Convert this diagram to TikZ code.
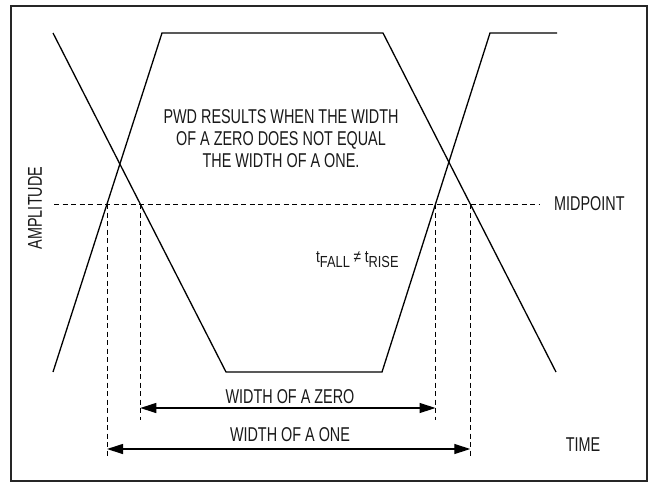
\documentclass[tikz,border=0pt]{standalone}
\usepackage{fontspec}
\setmainfont{Liberation Sans}[FakeStretch=0.72]
\newfontfamily\tfont{Liberation Sans}[FakeStretch=0.8]
\usetikzlibrary{arrows.meta}
\tikzstyle{wave}=[line width=1.3pt,line join=miter]
\tikzstyle{guide}=[line width=0.9pt,dash pattern=on 5pt off 3.5pt]
\tikzstyle{dim}=[line width=1.2pt,{Triangle[length=16pt,width=10pt]}-{Triangle[length=16pt,width=10pt]}]
\tikzstyle{lbl}=[inner sep=0pt,text=black!90,font=\fontsize{20}{22}\selectfont]
\newcommand{\subtxt}[1]{\raisebox{-5pt}{\fontsize{16}{16}\selectfont #1}}

\begin{document}
\begin{tikzpicture}[x=1pt,y=-1pt]
	\useasboundingbox (0,0) rectangle (651,483);
	\draw[line width=2.2pt,draw=black!85] (11,6) rectangle (647,481);
	% the two edges of the eye
	\coordinate (fa) at (53,33);
	\coordinate (fb) at (226,372);
	\coordinate (fc) at (382,372);
	\coordinate (fd) at (490,33);
	\coordinate (fe) at (557,33);
	\coordinate (ra) at (53,372);
	\coordinate (rb) at (162,33);
	\coordinate (rc) at (383,33);
	\coordinate (rd) at (556,372);
	\draw[wave] (fa) -- (fb) -- (fc) -- (fd) -- (fe);
	\draw[wave] (ra) -- (rb) -- (rc) -- (rd);
	% midpoint level
	\coordinate (m0) at (54,204);
	\coordinate (m1) at (540,204);
	\draw[guide] (m0) -- (m1);
	\coordinate (c1) at (intersection of ra--rb and m0--m1);
	\coordinate (c2) at (intersection of fa--fb and m0--m1);
	\coordinate (c3) at (intersection of fc--fd and m0--m1);
	\coordinate (c4) at (intersection of rc--rd and m0--m1);
	\coordinate (zlo) at (0,420);
	\coordinate (olo) at (0,457);
	\coordinate (zy) at (0,408);
	\coordinate (oy) at (0,449);
	\foreach \c in {c2,c3}
	\draw[guide] (\c) -- (\c |- zlo);
	\foreach \c in {c1,c4}
	\draw[guide] (\c) -- (\c |- olo);
	\draw[dim] (c2 |- zy) -- (c3 |- zy);
	\draw[dim] (c1 |- oy) -- (c4 |- oy);
	% labels
	\node[lbl,align=center] (pwd) at (281,139) {PWD RESULTS WHEN THE WIDTH\\OF A ZERO DOES NOT EQUAL\\THE WIDTH OF A ONE.};
	\node[lbl,anchor=west] (mid) at (554,204) {MIDPOINT};
	\node[lbl,rotate=90] (amp) at (35,208) {AMPLITUDE};
	\node[lbl,anchor=base west,font=\tfont\fontsize{17}{17}\selectfont] (tft) at (316,262) {t\subtxt{FALL} ≠ t\subtxt{RISE}};
	\node[lbl] (wz) at (290,397) {WIDTH OF A ZERO};
	\node[lbl] (wo) at (290,435) {WIDTH OF A ONE};
	\node[lbl] (time) at (583,445) {TIME};
\end{tikzpicture}
\end{document}
